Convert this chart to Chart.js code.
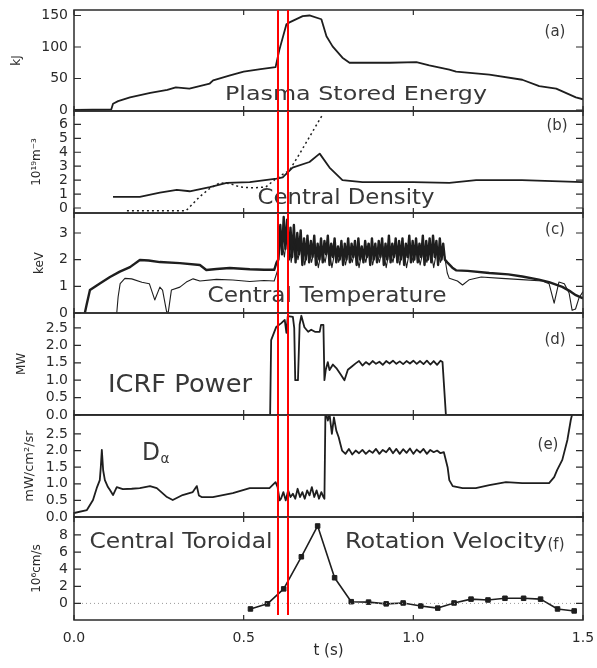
<!DOCTYPE html>
<html lang="en">
<head>
<meta charset="UTF-8">
<title>Discharge time traces</title>
<script src="https://cdn.jsdelivr.net/npm/chart.js@4.4.0/dist/chart.umd.min.js"></script>
<style>
  html, body { margin: 0; padding: 0; background: #fff; }
  #wrap { position: relative; width: 597px; height: 668px; overflow: hidden; }
</style>
</head>
<body>
<div id="wrap"></div>
<script>
// ---- data ----
const markT = [0.6, 0.632];          // red marker times (s)
const xTicks = [0, 0.5, 1.0, 1.5];

// (a) plasma stored energy, kJ
const energyT = [0, 0.11, 0.115, 0.13, 0.165, 0.225, 0.275, 0.30, 0.34, 0.40, 0.41, 0.46, 0.50, 0.55, 0.594, 0.605, 0.626, 0.635, 0.674, 0.694, 0.729, 0.744, 0.762, 0.791, 0.812, 0.93, 1.009, 1.047, 1.106, 1.126, 1.224, 1.321, 1.371, 1.421, 1.479, 1.50];
const energyV = [0, 1, 10, 14, 20, 27, 32, 36, 34, 42, 47, 55, 61, 65, 68, 95, 136, 139, 149, 150, 144, 117, 101, 83, 75, 75, 76, 71, 64, 61, 56, 48, 38, 34, 20, 17];
const energyTicks = [0, 50, 100, 150];

// (b) central density, 10^19 m^-3 (solid and dotted traces)
const densT = [0.115, 0.194, 0.253, 0.303, 0.341, 0.40, 0.45, 0.518, 0.597, 0.615, 0.644, 0.694, 0.724, 0.753, 0.791, 0.85, 1.0, 1.106, 1.185, 1.32, 1.5];
const densV = [0.8, 0.8, 1.1, 1.3, 1.2, 1.5, 1.8, 1.85, 2.1, 2.2, 2.9, 3.3, 3.9, 2.9, 2.0, 1.85, 1.85, 1.8, 2.0, 2.0, 1.85];
const densDotT = [0.156, 0.33, 0.37, 0.40, 0.43, 0.46, 0.49, 0.53, 0.565, 0.60, 0.635, 0.665, 0.694, 0.718, 0.73];
const densDotV = [-0.2, -0.2, 0.8, 1.4, 1.8, 1.75, 1.5, 1.45, 1.5, 2.2, 2.7, 3.9, 5.1, 6.1, 6.6];
const densTicks = [0, 1, 2, 3, 4, 5, 6];

// (c) central temperature, keV (thick and thin traces)
const tempT = [
  0.032, 0.037, 0.047, 0.075, 0.106, 0.135, 0.165, 0.194, 0.22, 0.253, 0.312, 0.371, 0.39, 0.42, 0.459, 0.518, 0.56, 0.59, 0.597,
  0.602, 0.608, 0.613, 0.618, 0.623, 0.628, 0.633, 0.638, 0.643, 0.648,
  0.653, 0.658, 0.663, 0.668, 0.673, 0.678, 0.683, 0.688, 0.693, 0.698,
  0.703, 0.708, 0.713, 0.718, 0.723, 0.728, 0.733, 0.738, 0.743, 0.748,
  0.753, 0.758, 0.763, 0.768, 0.773, 0.778, 0.783, 0.788, 0.793, 0.798,
  0.803, 0.808, 0.813, 0.818, 0.823, 0.828, 0.833, 0.838, 0.843, 0.848,
  0.853, 0.858, 0.863, 0.868, 0.873, 0.878, 0.883, 0.888, 0.893, 0.898,
  0.903, 0.908, 0.913, 0.918, 0.923, 0.928, 0.933, 0.938, 0.943, 0.948,
  0.953, 0.958, 0.963, 0.968, 0.973, 0.978, 0.983, 0.988, 0.993, 0.998,
  1.003, 1.008, 1.013, 1.018, 1.023, 1.028, 1.033, 1.038, 1.043, 1.048,
  1.053, 1.058, 1.063, 1.068, 1.073, 1.078, 1.083, 1.088, 1.093,
  1.10, 1.115, 1.126, 1.16, 1.224, 1.28, 1.321, 1.37, 1.40, 1.439, 1.464, 1.479, 1.5
];
const tempV = [
  0, 0.3, 0.86, 1.1, 1.35, 1.55, 1.72, 1.99, 1.97, 1.91, 1.87, 1.8, 1.61, 1.65, 1.69, 1.64, 1.62, 1.62, 1.9,
  2.0, 3.3, 2.2, 3.6, 2.4, 3.5, 2.0, 3.2, 2.1, 3.3,
  1.9, 3.0, 2.2, 3.1, 1.8, 2.8, 2.0, 2.9, 1.9, 2.7,
  2.1, 2.9, 1.8, 2.6, 2.0, 2.8, 1.9, 2.7, 2.2, 2.9,
  1.8, 2.6, 2.1, 2.8, 1.9, 2.5, 2.0, 2.7, 1.8, 2.6,
  2.0, 2.8, 1.9, 2.6, 2.1, 2.7, 1.8, 2.8, 2.0, 2.5,
  1.9, 2.7, 2.1, 2.6, 1.8, 2.8, 2.0, 2.6, 1.9, 2.7,
  2.1, 2.8, 1.8, 2.6, 2.0, 2.9, 1.9, 2.6, 2.1, 2.8,
  1.9, 2.7, 2.0, 2.8, 1.8, 2.6, 2.1, 2.9, 1.9, 2.7,
  2.0, 2.8, 1.9, 2.6, 2.1, 2.9, 1.8, 2.7, 2.0, 2.8,
  1.9, 2.9, 2.1, 2.7, 1.8, 2.8, 2.0, 2.6, 2.0,
  1.9, 1.7, 1.6, 1.58, 1.5, 1.45, 1.37, 1.25, 1.16, 0.98, 0.8, 0.67, 0.55
];
const thinT = [
  0.126, 0.13, 0.136, 0.15, 0.17, 0.20, 0.222, 0.238, 0.253, 0.261, 0.273, 0.278, 0.287, 0.312, 0.331, 0.351, 0.371, 0.42, 0.468, 0.518, 0.56, 0.59, 0.60,
  0.61, 0.62, 0.63, 0.64, 0.65, 0.66, 0.67, 0.68, 0.69,
  0.70, 0.71, 0.72, 0.73, 0.74, 0.75, 0.76, 0.77, 0.78, 0.79,
  0.80, 0.81, 0.82, 0.83, 0.84, 0.85, 0.86, 0.87, 0.88, 0.89,
  0.90, 0.91, 0.92, 0.93, 0.94, 0.95, 0.96, 0.97, 0.98, 0.99,
  1.00, 1.01, 1.02, 1.03, 1.04, 1.05, 1.06, 1.07, 1.08, 1.09,
  1.10, 1.106, 1.13, 1.145, 1.165, 1.2, 1.26, 1.32, 1.38, 1.40, 1.415, 1.429, 1.445, 1.459, 1.468, 1.478, 1.488, 1.5
];
const thinV = [
  0, 0.6, 1.1, 1.3, 1.28, 1.15, 1.1, 0.49, 0.97, 0.86, 0.04, 0.04, 0.86, 0.97, 1.16, 1.28, 1.2, 1.26, 1.24, 1.18, 1.22, 1.2, 1.6,
  2.9, 2.1, 3.2, 1.9, 2.8, 2.0, 2.6, 1.8, 2.5,
  1.9, 2.5, 1.7, 2.4, 1.9, 2.6, 1.7, 2.4, 1.9, 2.5,
  1.8, 2.4, 1.9, 2.5, 1.7, 2.4, 1.9, 2.6, 1.8, 2.4,
  1.9, 2.5, 1.7, 2.4, 1.9, 2.6, 1.8, 2.5, 1.7, 2.4,
  1.9, 2.6, 1.8, 2.4, 1.9, 2.5, 1.7, 2.4, 1.9, 2.3,
  1.5, 1.3, 1.2, 1.05, 1.25, 1.35, 1.3, 1.25, 1.2, 1.1, 0.37, 1.16, 1.1, 0.75, 0.1, 0.15, 0.56, 0.8
];
const tempTicks = [0, 1, 2, 3];

// (d) ICRF power, MW
const powerT = [
  0, 0.578, 0.581, 0.596, 0.611, 0.621, 0.626, 0.630, 0.645, 0.649, 0.652, 0.660, 0.665, 0.670, 0.679, 0.690,
  0.699, 0.710, 0.724, 0.728, 0.735, 0.738, 0.742, 0.748, 0.753, 0.763, 0.773, 0.787, 0.797, 0.807, 0.817, 0.831,
  0.84, 0.85, 0.86, 0.87, 0.88, 0.89, 0.90, 0.91, 0.92, 0.93, 0.94, 0.95, 0.96,
  0.97, 0.98, 0.99, 1.00, 1.01, 1.02, 1.03, 1.04, 1.05, 1.06, 1.07, 1.08,
  1.086, 1.096, 1.5
];
const powerV = [
  0, 0, 2.15, 2.53, 2.64, 2.73, 2.36, 2.84, 2.82, 2.5, 1.0, 1.0, 2.6, 2.85, 2.52, 2.39,
  2.45, 2.39, 2.39, 2.59, 2.59, 1.0, 1.3, 1.52, 1.29, 1.45, 1.35, 1.15, 1.0, 1.3, 1.38, 1.49,
  1.55, 1.42, 1.52, 1.45, 1.55, 1.47, 1.53, 1.44, 1.55, 1.48, 1.56, 1.47, 1.54,
  1.46, 1.55, 1.48, 1.56, 1.47, 1.55, 1.46, 1.56, 1.45, 1.55, 1.44, 1.56,
  1.52, 0, 0
];
const powerTicks = [0, 0.5, 1.0, 1.5, 2.0, 2.5];

// (e) D-alpha, mW/cm^2/sr
const dalphaT = [
  0, 0.038, 0.056, 0.068, 0.076, 0.079, 0.082, 0.086, 0.091, 0.1, 0.106, 0.115, 0.126, 0.144, 0.17, 0.194,
  0.224, 0.244, 0.274, 0.291, 0.32, 0.35, 0.362, 0.368, 0.376, 0.409, 0.468, 0.518, 0.576, 0.594, 0.6, 0.606,
  0.61, 0.617, 0.624, 0.631, 0.638, 0.645, 0.652, 0.659, 0.666, 0.673, 0.68, 0.687, 0.694, 0.701, 0.708, 0.715, 0.722, 0.729, 0.735, 0.738,
  0.741, 0.748, 0.753, 0.76, 0.766, 0.773, 0.78, 0.785,
  0.79, 0.80, 0.81, 0.82, 0.83, 0.84, 0.85, 0.86, 0.87, 0.88, 0.89, 0.90, 0.91, 0.92, 0.93, 0.94,
  0.95, 0.96, 0.97, 0.98, 0.99, 1.00, 1.01, 1.02, 1.03, 1.04, 1.05, 1.06, 1.07, 1.08, 1.09,
  1.101, 1.106, 1.116, 1.145, 1.184, 1.224, 1.273, 1.321, 1.40, 1.415, 1.424, 1.439, 1.454, 1.464, 1.469, 1.475
];
const dalphaV = [
  0.12, 0.21, 0.51, 0.9, 1.11, 1.5, 2.02, 1.4, 1.11, 0.9, 0.81, 0.66, 0.9, 0.84, 0.85, 0.87,
  0.93, 0.87, 0.6, 0.51, 0.66, 0.75, 0.93, 0.65, 0.6, 0.6, 0.72, 0.87, 0.87, 1.05, 0.9, 0.5,
  0.55, 0.75, 0.5, 0.8, 0.6, 0.7, 0.55, 0.85, 0.6, 0.75, 0.55, 0.8, 0.65, 0.9, 0.6, 0.8, 0.55, 0.75, 0.6, 0.55,
  3.2, 2.9, 3.1, 2.5, 3.0, 2.6, 2.4, 2.2,
  2.0, 1.9, 2.05, 1.88, 2.0, 1.92, 2.02, 1.9, 2.0, 1.93, 2.05, 1.9, 2.02, 1.95, 2.08, 1.92,
  2.05, 1.9, 2.04, 1.93, 2.06, 1.9, 2.03, 1.94, 2.05, 1.9, 2.02, 1.95, 2.0, 1.92, 1.95,
  1.5, 1.11, 0.93, 0.87, 0.87, 0.96, 1.05, 1.02, 1.02, 1.2, 1.42, 1.72, 2.32, 2.92, 3.13, 3.6
];
const dalphaTicks = [0, 0.5, 1.0, 1.5, 2.0, 2.5];

// (f) central toroidal rotation velocity, 10^6 cm/s
const rotT = [0.52, 0.57, 0.618, 0.67, 0.718, 0.768, 0.817, 0.868, 0.92, 0.97, 1.022, 1.072, 1.12, 1.17, 1.22, 1.27, 1.325, 1.375, 1.425, 1.474];
const rotV = [-0.65, -0.05, 1.7, 5.45, 9.05, 3.0, 0.2, 0.15, -0.05, 0.05, -0.3, -0.55, 0.05, 0.5, 0.4, 0.6, 0.6, 0.5, -0.65, -0.88];
const zeroT = [0, 1.5];
const zeroV = [0, 0];
const rotTicks = [0, 2, 4, 6, 8];

// ---- drawing ----
const FONT = '"DejaVu Sans", "Liberation Sans", sans-serif';
const INK = '#1e1e1e';
Chart.defaults.font.family = FONT;
Chart.defaults.color = '#2a2a2a';

const pts = (ts, vs) => ts.map((t, i) => ({ x: t, y: vs[i] }));
const line = (ts, vs, extra) => Object.assign({
  data: pts(ts, vs), borderColor: INK, borderWidth: 1.8, pointRadius: 0,
  tension: 0, borderJoinStyle: 'round', fill: false
}, extra || {});

const decor = {
  id: 'decor',
  afterDatasetsDraw(chart, args, o) {
    const { ctx, chartArea: a, scales: { x, y } } = chart;
    const off = chart.canvas.offsetTop;
    ctx.save();
    // frame and inward ticks
    ctx.strokeStyle = '#2b2b2b';
    ctx.lineWidth = 1.5;
    ctx.strokeRect(a.left, a.top, a.width, a.height);
    ctx.lineWidth = 1.2;
    ctx.beginPath();
    y.ticks.forEach(tk => {
      const py = y.getPixelForValue(tk.value);
      ctx.moveTo(a.left, py); ctx.lineTo(a.left + 7, py);
      ctx.moveTo(a.right, py); ctx.lineTo(a.right - 7, py);
    });
    xTicks.forEach(v => {
      const px = x.getPixelForValue(v);
      ctx.moveTo(px, a.top); ctx.lineTo(px, a.top + 5);
      ctx.moveTo(px, a.bottom); ctx.lineTo(px, a.bottom - 5);
    });
    ctx.stroke();
    // labels inside the panel (page coordinates: centre x, baseline y)
    ctx.fillStyle = '#383838';
    ctx.textAlign = 'center';
    ctx.textBaseline = 'alphabetic';
    (o.texts || []).forEach(([s, cx, by, size, w]) => {
      ctx.font = size + 'px ' + FONT;
      const m = ctx.measureText(s).width;
      ctx.save();
      ctx.translate(cx, by - off);
      if (w) ctx.scale(w / m, 1);
      ctx.fillText(s, 0, 0);
      ctx.restore();
    });
    // red time markers
    ctx.strokeStyle = '#ff0000';
    ctx.lineWidth = 2;
    ctx.beginPath();
    markT.forEach(t => {
      const px = Math.round(x.getPixelForValue(t));
      ctx.moveTo(px, a.top);
      ctx.lineTo(px, o.last ? a.bottom - 5 : a.bottom);
    });
    ctx.stroke();
    ctx.restore();
  }
};

const wrap = document.getElementById('wrap');

function panel(p) {
  const cv = document.createElement('canvas');
  const top = p.top - 10;
  const h = p.last ? 668 - top : p.bottom - p.top + 20;
  cv.width = 597;
  cv.height = h;
  cv.style.cssText = `position:absolute;left:0;top:${top}px;width:597px;height:${h}px`;
  wrap.appendChild(cv);

  new Chart(cv, {
    type: 'line',
    data: { datasets: p.datasets },
    options: {
      responsive: false,
      animation: false,
      events: [],
      layout: { padding: { top: 10, bottom: p.last ? 0 : 10, left: 0, right: 14 } },
      plugins: {
        legend: { display: false },
        tooltip: { enabled: false },
        decor: { texts: p.texts, last: !!p.last }
      },
      scales: {
        x: {
          type: 'linear', min: 0, max: 1.5,
          display: !!p.last,
          afterBuildTicks: s => { s.ticks = xTicks.map(v => ({ value: v })); },
          afterFit: s => { if (p.last) s.height = 48; },
          grid: { display: false, drawTicks: true, tickLength: 10 },
          border: { display: false },
          ticks: { padding: 0, autoSkip: false, maxRotation: 0, font: { size: 14 }, color: '#2a2a2a',
                   callback: v => Number(v).toFixed(1) },
          title: { display: true, text: 't (s)', font: { size: 15 }, color: '#2a2a2a', padding: { top: 0, bottom: 8 } }
        },
        y: {
          min: p.min, max: p.max,
          afterBuildTicks: s => { s.ticks = p.ticks.map(v => ({ value: v })); },
          afterFit: s => { s.width = 74; },
          grid: { display: false, drawTicks: true, tickLength: 6 },
          border: { display: false },
          ticks: { padding: 0, autoSkip: false, font: { size: 14 }, color: '#2a2a2a',
                   callback: p.fmt || (v => String(v)) },
          title: { display: true, text: p.unit, font: { size: p.unitSize || 12 }, color: '#2a2a2a',
                   padding: { top: p.unitPad, bottom: 0 } }
        }
      }
    },
    plugins: [decor]
  });
}

const oneDec = v => Number(v).toFixed(1);

panel({
  top: 10, bottom: 111, min: -1.6, max: 158.7, ticks: energyTicks, unit: 'kJ', unitPad: 10,
  datasets: [line(energyT, energyV)],
  texts: [['Plasma Stored Energy', 356, 100, 20, 262], ['(a)', 555, 36, 15]]
});

panel({
  top: 111, bottom: 213, min: -0.36, max: 6.96, ticks: densTicks, unit: '10¹⁹m⁻³', unitPad: 30,
  datasets: [
    line(densDotT, densDotV, { borderWidth: 1.5, borderDash: [2, 3] }),
    line(densT, densV)
  ],
  texts: [['Central Density', 346, 204, 21, 177], ['(b)', 557, 130, 15]]
});

panel({
  top: 213, bottom: 313, min: 0, max: 3.75, ticks: tempTicks, unit: 'keV', unitPad: 33,
  datasets: [
    line(thinT, thinV, { borderWidth: 1.1 }),
    line(tempT, tempV, { borderWidth: 2.4 })
  ],
  texts: [['Central Temperature', 327, 302, 22, 239], ['(c)', 555, 234, 15]]
});

panel({
  top: 313, bottom: 415, min: 0, max: 2.93, ticks: powerTicks, unit: 'MW', unitPad: 15, fmt: oneDec,
  datasets: [line(powerT, powerV)],
  texts: [['ICRF Power', 180, 392, 24, 144], ['(d)', 555, 344, 15]]
});

panel({
  top: 415, bottom: 517, min: 0, max: 3.07, ticks: dalphaTicks, unit: 'mW/cm²/sr', unitPad: 22, unitSize: 13, fmt: oneDec,
  datasets: [line(dalphaT, dalphaV)],
  texts: [['D', 151, 460, 24, 18], ['α', 165, 463, 14, 9], ['(e)', 548, 449, 15]]
});

panel({
  top: 517, bottom: 620, last: true, min: -1.94, max: 10.1, ticks: rotTicks, unit: '10⁶cm/s', unitPad: 30,
  datasets: [
    line(zeroT, zeroV, { borderColor: '#9a9a9a', borderWidth: 1, borderDash: [1, 3] }),
    line(rotT, rotV, {
      borderWidth: 1.6, pointRadius: 3.2, pointStyle: 'rect',
      pointBackgroundColor: INK, pointBorderColor: INK, pointBorderWidth: 1
    })
  ],
  texts: [['Central Toroidal', 181, 548, 22, 183], ['Rotation Velocity', 446, 548, 22, 202], ['(f)', 556, 549, 15]]
});
</script>
</body>
</html>
